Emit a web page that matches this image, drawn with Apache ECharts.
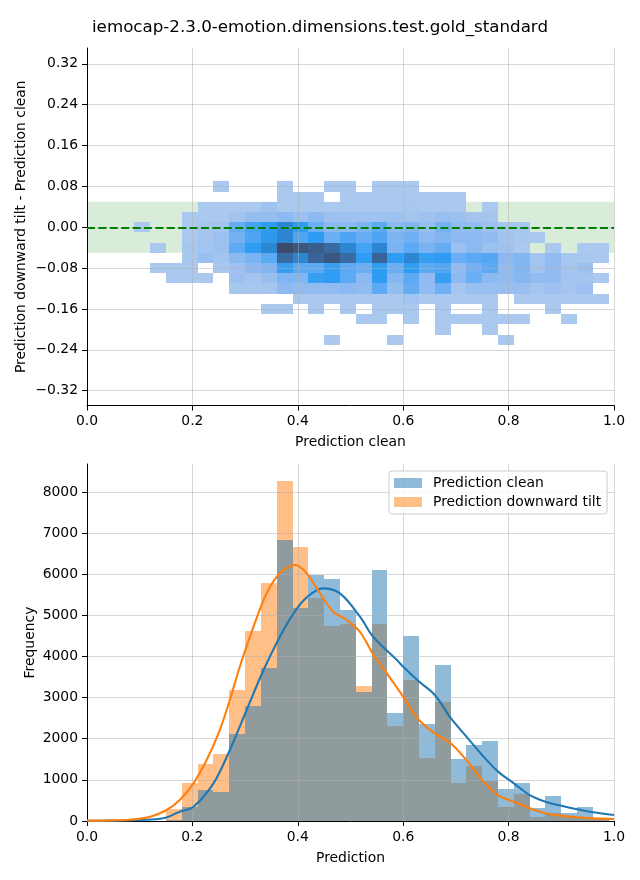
<!DOCTYPE html>
<html><head><meta charset="utf-8">
<script src="https://cdn.jsdelivr.net/npm/echarts@6/dist/echarts.min.js"></script>
<style>html,body{margin:0;padding:0;background:#fff}#c{width:640px;height:880px}</style>
</head><body><div id="c"></div>
<script>
const chartTitle = 'iemocap-2.3.0-emotion.dimensions.test.gold_standard';
const xTicks = [0, 0.2, 0.4, 0.6, 0.8, 1.0];
const diffTicks = [-0.32, -0.24, -0.16, -0.08, 0, 0.08, 0.16, 0.24, 0.32];
const freqTicks = [0, 1000, 2000, 3000, 4000, 5000, 6000, 7000, 8000];
const toleranceBand = [-0.05, 0.05];

// 2D histogram: x bins of width 0.03 starting at 0.09, rows centred on these diffs
const heatXStart = 0.09;
const heatXStep = 0.03;
const heatRowCenters = [0.08, 0.06, 0.04, 0.02, 0.00, -0.02, -0.04, -0.06, -0.08, -0.10, -0.12, -0.14, -0.16, -0.18, -0.20, -0.22];
const heatRowStep = 0.02;
const heatCounts = [
  [0,0,0,0,0,1,0,0,0,1,0,0,1,1,0,1,1,1,0,0,0,0,0,0,0,0,0,0,0,0],
  [0,0,0,0,0,0,0,0,0,1,1,1,0,1,1,1,1,1,1,1,1,0,0,0,0,0,0,0,0,0],
  [0,0,0,0,1,1,1,1,1.4,1,1,1,1,1,1,1,1,1.1,1,1,1,0,1,0,0,0,0,0,0,0],
  [0,0,0,1,1,1,1.3,1.7,1.7,2,1.5,2,1.5,1.4,1.4,1.4,1.4,1.2,1.4,1.6,1.5,1.2,1.2,0,0,0,0,0,0,0],
  [1,0,0,1,1.2,1.3,2.8,3.5,4,5,4,2.7,2,2,2.3,3,2,2.2,1.7,2.5,1.8,1.8,1.5,1.2,1.1,0,0,0,0,0],
  [0,0,0,1,1.2,1.5,2.5,3.3,4.2,5,3.3,4,2.7,3.3,2.8,3.3,2.3,2.6,2,2.2,2,2,1.8,1.3,1.1,1,0,0,0,0],
  [0,1,0,1.1,1.3,1.5,3,4,5,7,6.6,6.4,6,5,3.5,5,2.4,3,2.4,2.8,1.5,2,1.5,1.4,1,0,1,0,1,1],
  [0,0,0,1.1,1.6,1.3,2,2.4,3,6,5,6.2,6.6,6,4,6.2,4,5,3.8,4,2.7,3,3.2,2,2.2,1.3,1.8,1.1,1.1,1],
  [0,1,1,1,0,1.1,1.4,2,2.2,3.8,3,3,3.8,3,2.7,4,2.7,4,3,3.2,1.8,2.5,3,1.8,2.2,1.3,1.8,1.2,1.5,0],
  [0,0,1,1,1,0,1.5,1.2,1.6,2.2,2.2,3.8,4,3,2,4,2.1,3,1.8,3.8,2,2.7,2,1.8,2.1,1.8,1.8,1.3,1.2,1],
  [0,0,0,0,0,0,1.1,1.1,1.2,2,1.8,1.8,1.8,2,1.8,3,1.7,2.8,1.8,2.6,1.2,1.6,1.6,1.6,1.6,1.2,1.5,1.2,1.5,0],
  [0,0,0,0,0,0,0,0,0,0,1,1,1,1,1,1,1,1.3,1,1,1,1,1,0,1,1,1,1,1,1],
  [0,0,0,0,0,0,0,0,1,1,0,1,0,1,0,1,1,1,0,1,0,0,1,0,0,0,1,0,0,0],
  [0,0,0,0,0,0,0,0,0,0,0,0,0,0,1,1,0,1,0,1,1,1,1,1,1,0,0,1,0,0],
  [0,0,0,0,0,0,0,0,0,0,0,0,0,0,0,0,0,0,0,1,0,0,1,0,0,0,0,0,0,0],
  [0,0,0,0,0,0,0,0,0,0,0,0,1,0,0,0,1,0,0,0,0,0,0,1,0,0,0,0,0,0]
];
const heatColors = ['#abc8ef', '#8cb9f1', '#5ca9f4', '#2e9cf2', '#2c86d2', '#376ba2', '#3b4a6b'];

// 1D histograms
const histStart = 0.15;
const histBinWidth = 0.03;
const cleanCounts = [30, 350, 750, 710, 2120, 2800, 3720, 6830, 5190, 5980, 5890, 5130, 3145, 6100, 2630, 4510, 2360, 3790, 1510, 1840, 1945, 780, 925, 320, 610, 200, 340, 70];
const tiltCounts  = [290, 925, 1390, 1630, 3190, 4620, 5790, 8260, 6660, 5430, 4750, 4800, 3285, 4800, 2310, 3430, 1540, 2900, 930, 1340, 980, 350, 655, 105, 190, 105, 80, 60];

// KDE curves
const kdeCleanX = [0.0, 0.05, 0.10, 0.145, 0.176, 0.202, 0.240, 0.271, 0.303, 0.335, 0.366, 0.392, 0.417, 0.448, 0.48, 0.518, 0.543, 0.588, 0.60, 0.63, 0.66, 0.69, 0.72, 0.75, 0.78, 0.81, 0.84, 0.87, 0.90, 0.93, 0.96, 1.0];
const kdeCleanY = [3, 8, 25, 65, 227, 348, 916, 1726, 2699, 3670, 4481, 5050, 5438, 5657, 5535, 4968, 4480, 3915, 3750, 3390, 3065, 2505, 2050, 1600, 1200, 915, 630, 470, 372, 284, 211, 146];
const kdeTiltX = [0.0, 0.05, 0.082, 0.12, 0.151, 0.176, 0.202, 0.227, 0.252, 0.271, 0.290, 0.316, 0.341, 0.366, 0.395, 0.417, 0.442, 0.467, 0.493, 0.518, 0.543, 0.569, 0.60, 0.63, 0.66, 0.69, 0.72, 0.75, 0.78, 0.81, 0.84, 0.87, 0.90, 0.93, 0.96, 1.0];
const kdeTiltY = [8, 15, 30, 105, 267, 510, 916, 1483, 2212, 2942, 3751, 4724, 5536, 6022, 6224, 6022, 5536, 5089, 4887, 4600, 4050, 3590, 3025, 2455, 2130, 1890, 1480, 1000, 630, 470, 310, 187, 130, 90, 65, 50];

// ---- build
const FONT = 'DejaVu Sans';
const gridColor = 'rgba(176,176,176,0.5)';
const heatData = [];
heatRowCenters.forEach((yc, r) => {
  heatCounts[r].forEach((v, i) => {
    if (v > 0) {
      const x0 = heatXStart + i * heatXStep;
      heatData.push([x0, yc - heatRowStep / 2, x0 + heatXStep, yc + heatRowStep / 2, v]);
    }
  });
});
const barData = counts => counts.map((c, i) => [histStart + i * histBinWidth, histStart + (i + 1) * histBinWidth, c]);
const zip = (xs, ys) => xs.map((x, i) => [x, ys[i]]);

function rectItem(api, xa, ya, xb, yb, style) {
  const p0 = api.coord([xa, ya]);
  const p1 = api.coord([xb, yb]);
  const x0 = Math.round(Math.min(p0[0], p1[0])), x1 = Math.round(Math.max(p0[0], p1[0]));
  const y0 = Math.round(Math.min(p0[1], p1[1])), y1 = Math.round(Math.max(p0[1], p1[1]));
  return {type: 'rect', shape: {x: x0, y: y0, width: x1 - x0, height: y1 - y0}, style: style};
}

const tickText = {color: '#000', fontSize: 13.9, fontFamily: FONT};
const nameText = {color: '#000', fontSize: 13.9, fontFamily: FONT};
const axisLine = {show: true, onZero: false, lineStyle: {color: '#000', width: 1}};
const axisTick = vals => ({show: true, length: 5, lineStyle: {color: '#000', width: 1}, customValues: vals});
const split = {show: true, lineStyle: {color: gridColor, width: 1}};
const minus = v => (v < 0 ? '\u2212' : '');

const option = {
  animation: false,
  backgroundColor: '#fff',
  title: {text: chartTitle, left: 'center', top: 19, padding: 0,
    textStyle: {fontFamily: FONT, fontSize: 16.7, fontWeight: 'normal', color: '#000'}},
  grid: [
    {left: 87, top: 48, width: 527, height: 357.5},
    {left: 87, top: 464, width: 527, height: 357}
  ],
  xAxis: [
    {gridIndex: 0, type: 'value', min: 0, max: 1, z: 3,
     name: 'Prediction clean', nameLocation: 'middle', nameGap: 30, nameTextStyle: nameText,
     axisLine: axisLine, axisTick: axisTick(xTicks),
     axisLabel: Object.assign({margin: 9, customValues: xTicks, formatter: v => v.toFixed(1)}, tickText),
     splitLine: split},
    {gridIndex: 1, type: 'value', min: 0, max: 1, z: 3,
     name: 'Prediction', nameLocation: 'middle', nameGap: 30, nameTextStyle: nameText,
     axisLine: axisLine, axisTick: axisTick(xTicks),
     axisLabel: Object.assign({margin: 9, customValues: xTicks, formatter: v => v.toFixed(1)}, tickText),
     splitLine: split}
  ],
  yAxis: [
    {gridIndex: 0, type: 'value', min: -0.349, max: 0.351, z: 3,
     name: 'Prediction downward tilt - Prediction clean', nameLocation: 'middle', nameGap: 59,
     nameMoveOverlap: false, nameTextStyle: nameText,
     axisLine: axisLine, axisTick: axisTick(diffTicks),
     axisLabel: Object.assign({margin: 9, customValues: diffTicks,
       formatter: v => minus(v) + Math.abs(v).toFixed(2)}, tickText),
     splitLine: split},
    {gridIndex: 1, type: 'value', min: 0, max: 8680, z: 3,
     name: 'Frequency', nameLocation: 'middle', nameGap: 50,
     nameMoveOverlap: false, nameTextStyle: nameText,
     axisLine: axisLine, axisTick: axisTick(freqTicks),
     axisLabel: Object.assign({margin: 9, customValues: freqTicks, formatter: v => String(Math.round(v))}, tickText),
     splitLine: split}
  ],
  legend: {
    data: [
      {name: 'Prediction clean', itemStyle: {color: '#1f77b4', opacity: 0.5}},
      {name: 'Prediction downward tilt', itemStyle: {color: '#ff7f0e', opacity: 0.5}}
    ],
    orient: 'vertical', left: 389, top: 471, itemWidth: 28, itemHeight: 10, itemGap: 5,
    padding: [5, 6, 5, 5], borderColor: '#cccccc', borderWidth: 1, borderRadius: 3,
    backgroundColor: 'rgba(255,255,255,0.8)', selectedMode: false, z: 6, icon: 'rect',
    textStyle: {color: '#000', fontSize: 13.9, fontFamily: FONT, padding: [0, 0, 0, 6]}
  },
  visualMap: {type: 'continuous', show: false, min: 1, max: 7, dimension: 4, seriesIndex: 1,
    inRange: {color: heatColors}},
  series: [
    {type: 'line', name: 'band', xAxisIndex: 0, yAxisIndex: 0, data: [], z: 1, silent: true,
     markArea: {silent: true, itemStyle: {color: 'rgba(0,128,0,0.15)'},
       data: [[{yAxis: toleranceBand[0]}, {yAxis: toleranceBand[1]}]]}},
    {type: 'custom', name: 'heat', xAxisIndex: 0, yAxisIndex: 0, z: 2, silent: true,
     dimensions: ['x0', 'y0', 'x1', 'y1', 'v'], encode: {x: [0, 2], y: [1, 3]},
     data: heatData,
     renderItem: (params, api) => rectItem(api, api.value(0), api.value(1), api.value(2), api.value(3),
       {fill: api.visual('color')})},
    {type: 'line', name: 'zero', xAxisIndex: 0, yAxisIndex: 0, data: [], z: 4, silent: true,
     markLine: {silent: true, symbol: ['none', 'none'], label: {show: false},
       lineStyle: {color: '#008000', width: 2, type: [8, 3.4]},
       data: [{yAxis: 0}]}},
    {type: 'custom', name: 'Prediction downward tilt', xAxisIndex: 1, yAxisIndex: 1, z: 2, silent: true,
     itemStyle: {color: '#ff7f0e', opacity: 0.5},
     dimensions: ['x0', 'x1', 'c'], encode: {x: [0, 1], y: 2},
     data: barData(tiltCounts),
     renderItem: (params, api) => rectItem(api, api.value(0), api.value(2), api.value(1), 0,
       {fill: '#ff7f0e', opacity: 0.5})},
    {type: 'custom', name: 'Prediction clean', xAxisIndex: 1, yAxisIndex: 1, z: 2, silent: true,
     itemStyle: {color: '#1f77b4', opacity: 0.5},
     dimensions: ['x0', 'x1', 'c'], encode: {x: [0, 1], y: 2},
     data: barData(cleanCounts),
     renderItem: (params, api) => rectItem(api, api.value(0), api.value(2), api.value(1), 0,
       {fill: '#1f77b4', opacity: 0.5})},
    {type: 'line', name: 'kde clean', xAxisIndex: 1, yAxisIndex: 1, z: 4, silent: true,
     data: zip(kdeCleanX, kdeCleanY), showSymbol: false, smooth: 0.35,
     lineStyle: {color: '#1f77b4', width: 2.1}},
    {type: 'line', name: 'kde tilt', xAxisIndex: 1, yAxisIndex: 1, z: 4, silent: true,
     data: zip(kdeTiltX, kdeTiltY), showSymbol: false, smooth: 0.35,
     lineStyle: {color: '#ff7f0e', width: 2.1}}
  ]
};
const chart = echarts.init(document.getElementById('c'), null, {renderer: 'canvas'});
chart.setOption(option);
</script></body></html>
